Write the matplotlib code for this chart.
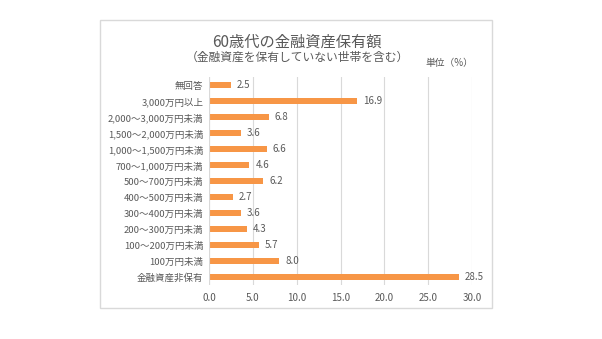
import matplotlib
matplotlib.use("Agg")
import matplotlib.pyplot as plt
from matplotlib.patches import Rectangle

plt.rcParams['font.family'] = ['Noto Sans CJK JP', 'DejaVu Sans']

categories = ["無回答", "3,000万円以上", "2,000～3,000万円未満", "1,500～2,000万円未満",
              "1,000～1,500万円未満", "700～1,000万円未満", "500～700万円未満",
              "400～500万円未満", "300～400万円未満", "200～300万円未満",
              "100～200万円未満", "100万円未満", "金融資産非保有"]
values = [2.5, 16.9, 6.8, 3.6, 6.6, 4.6, 6.2, 2.7, 3.6, 4.3, 5.7, 8.0, 28.5]
xticks = [0, 5, 10, 15, 20, 25, 30]

W, H = 602, 339
fig = plt.figure(figsize=(W / 100, H / 100), dpi=100)
fig.patch.set_facecolor("white")

# outer chart frame
fig.patches.append(Rectangle((100 / W, 1 - 308 / H), 392 / W, 288 / H,
                             transform=fig.transFigure, fill=False,
                             edgecolor="#d9d9d9", linewidth=1.0))

ax = fig.add_axes([209 / W, 1 - 285 / H, 263 / W, 208 / H])
text_c = "#595959"
y = list(range(len(categories)))
ax.barh(y, values, height=0.35, color="#F79646")
ax.set_ylim(len(categories) - 0.5, -0.5)
ax.set_xlim(0, 30)
ax.set_xticks(xticks)
ax.set_xticklabels([f"{v:.1f}" for v in xticks], fontsize=7, color=text_c)
ax.set_yticks(y)
ax.set_yticklabels(categories, fontsize=6.8, color=text_c)
ax.tick_params(length=0, pad=4)
ax.tick_params(axis='x', pad=6)
ax.grid(axis='x', color="#d9d9d9", linewidth=0.8)
ax.set_axisbelow(True)
for s in ax.spines.values():
    s.set_visible(False)
ax.axvline(0, color="#d9d9d9", linewidth=0.8)
for yi, v in zip(y, values):
    ax.text(v + 0.7, yi, f"{v:.1f}", va='center', ha='left', fontsize=7, color=text_c)

fig.text(297 / W, 1 - 42 / H, "60歳代の金融資産保有額", ha='center', va='center',
         fontsize=11, color=text_c)
fig.text(297 / W, 1 - 57 / H, "（金融資産を保有していない世帯を含む）", ha='center', va='center',
         fontsize=8.5, color=text_c)
fig.text(449 / W, 1 - 63 / H, "単位（%）", ha='center', va='center', fontsize=7, color=text_c)

fig.savefig("out.png", dpi=100)
